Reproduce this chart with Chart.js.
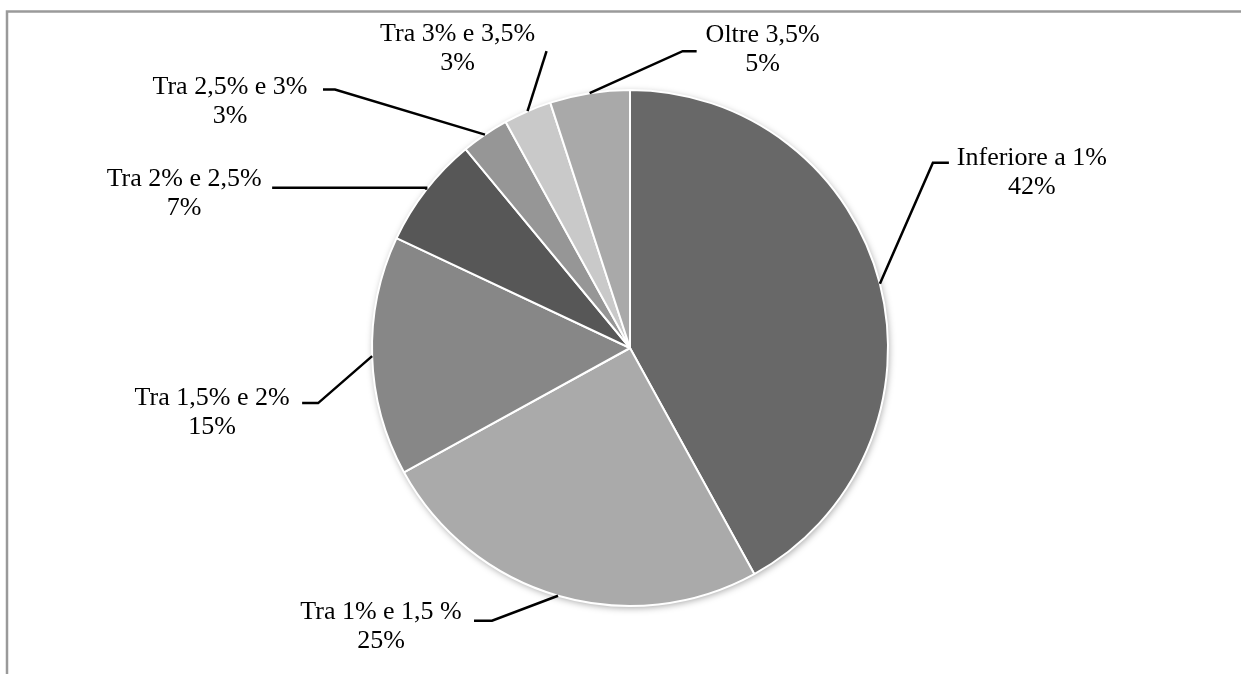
<!DOCTYPE html>
<html>
<head>
<meta charset="utf-8">
<script src="https://cdn.jsdelivr.net/npm/chart.js@4"></script>
<style>
  body { margin: 0; background: #fff; }
  #wrap { width: 1241px; height: 674px; }
</style>
</head>
<body>
<div id="wrap"><canvas id="torta" width="1241" height="674"></canvas></div>
<script>
// fasce di rendimento e quota percentuale
const categorie = [
  'Inferiore a 1%',
  'Tra 1% e 1,5 %',
  'Tra 1,5% e 2%',
  'Tra 2% e 2,5%',
  'Tra 2,5% e 3%',
  'Tra 3% e 3,5%',
  'Oltre 3,5%'
];
const quote = [42, 25, 15, 7, 3, 3, 5];

const grigi = ['#686868', '#aaaaaa', '#878787', '#575757', '#969696', '#c9c9c9', '#a9a9a9'];

// leader lines: elbow offset from the arc midpoint, horizontal tail, text block centre
const guide = [
  { gomito: [53, -121], coda: 16, testo: [152, -111] },
  { gomito: [-66, 25], coda: -18, testo: [-177, 31] },
  { gomito: [-54, 47], coda: -16, testo: [-160, 57] },
  { gomito: [0, -2], coda: -154, testo: [-242, 4] },
  { gomito: [-150, -45], coda: -12, testo: [-255, -33] },
  { gomito: [19, -60], coda: 0, testo: [-70, -63] },
  { gomito: [93, -42], coda: 14, testo: [173, -44] }
];

// grey frame, top and left only
const cornice = {
  id: 'cornice',
  beforeDraw(chart) {
    const ctx = chart.ctx;
    ctx.save();
    ctx.strokeStyle = '#9a9a9a';
    ctx.lineWidth = 2.5;
    ctx.beginPath();
    ctx.moveTo(7, 674);
    ctx.lineTo(7, 11.5);
    ctx.lineTo(1241, 11.5);
    ctx.stroke();
    ctx.restore();
  }
};

// soft shadow under the pie
const ombra = {
  id: 'ombra',
  beforeDatasetsDraw(chart) {
    const arc = chart.getDatasetMeta(0).data[0];
    if (!arc) return;
    const ctx = chart.ctx;
    ctx.save();
    ctx.shadowColor = 'rgba(0,0,0,0.35)';
    ctx.shadowBlur = 7;
    ctx.shadowOffsetX = 1;
    ctx.shadowOffsetY = 2;
    ctx.fillStyle = '#ffffff';
    ctx.beginPath();
    ctx.arc(arc.x, arc.y, arc.outerRadius, 0, Math.PI * 2);
    ctx.fill();
    ctx.restore();
  }
};

// labels with leader lines
const etichette = {
  id: 'etichette',
  afterDatasetsDraw(chart) {
    const ctx = chart.ctx;
    const meta = chart.getDatasetMeta(0);
    const valori = chart.data.datasets[0].data;
    ctx.save();
    ctx.font = '26px "Liberation Serif", serif';
    ctx.fillStyle = '#000';
    ctx.strokeStyle = '#000';
    ctx.lineWidth = 2.5;
    ctx.textAlign = 'center';
    ctx.textBaseline = 'middle';
    meta.data.forEach((arc, i) => {
      const g = guide[i];
      const mid = (arc.startAngle + arc.endAngle) / 2;
      const ax = arc.x + Math.cos(mid) * arc.outerRadius;
      const ay = arc.y + Math.sin(mid) * arc.outerRadius;
      const ex = ax + g.gomito[0];
      const ey = ay + g.gomito[1];
      ctx.beginPath();
      ctx.moveTo(ax, ay);
      ctx.lineTo(ex, ey);
      ctx.lineTo(ex + g.coda, ey);
      ctx.stroke();
      const tx = ax + g.testo[0];
      const ty = ay + g.testo[1];
      ctx.fillText(chart.data.labels[i], tx, ty - 14.5);
      ctx.fillText(valori[i] + '%', tx, ty + 14.5);
    });
    ctx.restore();
  }
};

const torta = new Chart(document.getElementById('torta'), {
  type: 'pie',
  data: {
    labels: categorie,
    datasets: [{
      data: quote,
      backgroundColor: grigi,
      borderColor: '#ffffff',
      borderWidth: 2
    }]
  },
  options: {
    responsive: false,
    animation: false,
    layout: {
      padding: { top: 89, bottom: 67, left: 200, right: 181 }
    },
    plugins: {
      legend: { display: false },
      tooltip: { enabled: false }
    }
  },
  plugins: [cornice, ombra, etichette]
});
</script>
</body>
</html>
